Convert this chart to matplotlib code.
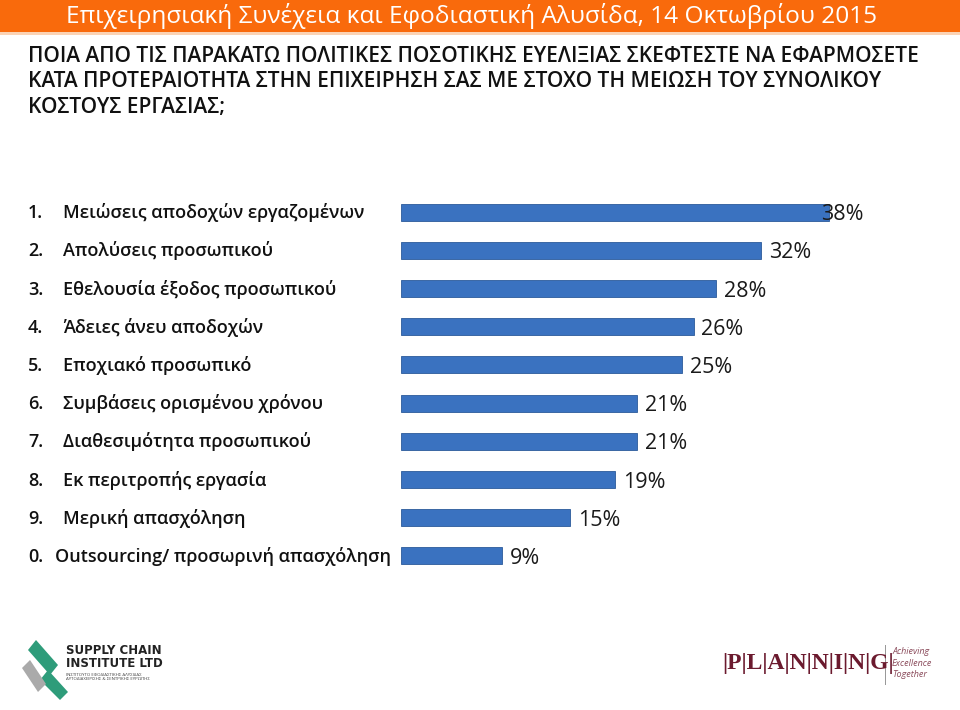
import matplotlib.pyplot as plt
import matplotlib.transforms as mtransforms
from matplotlib.patches import Rectangle, Polygon

plt.rcParams['font.family'] = ['Open Sans', 'DejaVu Sans']

numbers = ['1.', '2.', '3.', '4.', '5.', '6.', '7.', '8.', '9.', '0.']
labels = ['Μειώσεις αποδοχών εργαζομένων',
          'Απολύσεις προσωπικού',
          'Εθελουσία έξοδος προσωπικού',
          'Άδειες άνευ αποδοχών',
          'Εποχιακό προσωπικό',
          'Συμβάσεις ορισμένου χρόνου',
          'Διαθεσιμότητα προσωπικού',
          'Εκ περιτροπής εργασία',
          'Μερική απασχόληση',
          'Outsourcing/ προσωρινή απασχόληση']
values = [38, 32, 28, 26, 25, 21, 21, 19, 15, 9]

header = 'Επιχειρησιακή Συνέχεια και Εφοδιαστική Αλυσίδα, 14 Οκτωβρίου 2015'
question = ('ΠΟΙΑ ΑΠΟ ΤΙΣ ΠΑΡΑΚΑΤΩ ΠΟΛΙΤΙΚΕΣ ΠΟΣΟΤΙΚΗΣ ΕΥΕΛΙΞΙΑΣ ΣΚΕΦΤΕΣΤΕ ΝΑ ΕΦΑΡΜΟΣΕΤΕ\n'
            'ΚΑΤΑ ΠΡΟΤΕΡΑΙΟΤΗΤΑ ΣΤΗΝ ΕΠΙΧΕΙΡΗΣΗ ΣΑΣ ΜΕ ΣΤΟΧΟ ΤΗ ΜΕΙΩΣΗ ΤΟΥ ΣΥΝΟΛΙΚΟΥ\n'
            'ΚΟΣΤΟΥΣ ΕΡΓΑΣΙΑΣ;')

W, H = 960, 710
fig = plt.figure(figsize=(W / 100, H / 100), dpi=100)
fig.patch.set_facecolor('white')

# orange header band
fig.patches.append(Rectangle((0, 1 - 32 / H), 1, 32 / H, transform=fig.transFigure,
                             facecolor='#F96A0C', edgecolor='none'))
fig.patches.append(Rectangle((0, 1 - 35 / H), 1, 3 / H, transform=fig.transFigure,
                             facecolor='#FBD3B5', edgecolor='none'))
fig.text(66 / W, 1 - 16 / H, header, color='white', fontsize=17.6,
         va='center', ha='left')

fig.text(28 / W, 1 - 46 / H, question, color='#111111', fontsize=15,
         fontweight='semibold', va='top', ha='left', linespacing=1.28)

# bars
ax = fig.add_axes([401 / W, 1 - 575 / H, (W - 401) / W, 382 / H])
ax.set_xlim(0, (W - 401) / 11.25)
ax.set_ylim(len(values) - 0.5, -0.5)
ax.axis('off')
pos = list(range(len(values)))
ax.barh(pos, values, height=0.45, color='#3A72C0', edgecolor='#2B5A9A', linewidth=0.6)

for i, v in enumerate(values):
    dx = -7 if i == 0 else 8
    ax.annotate(f'{v}%', (v, i), xytext=(dx, -8), textcoords='offset pixels',
                ha='left', va='baseline', fontsize=15.5, color='#1a1a1a')

tr = mtransforms.blended_transform_factory(fig.transFigure, ax.transData)
for i, (num, lab) in enumerate(zip(numbers, labels)):
    x_lab = 55 / W if i == len(labels) - 1 else 63 / W
    ax.annotate(num, (28 / W, i), xycoords=tr, xytext=(0, -6), textcoords='offset pixels',
                ha='left', va='baseline', fontsize=13, fontweight='semibold', color='#111111')
    ax.annotate(lab, (x_lab, i), xycoords=tr, xytext=(0, -6), textcoords='offset pixels',
                ha='left', va='baseline', fontsize=13, fontweight='semibold', color='#111111')

# footer logos (approximated with text/shapes)
fig.patches.append(Polygon([(28 / W, 1 - 650 / H), (36 / W, 1 - 640 / H), (58 / W, 1 - 665 / H),
                            (50 / W, 1 - 675 / H)], closed=True, transform=fig.transFigure,
                           facecolor='#2E9C7A', edgecolor='none'))
fig.patches.append(Polygon([(40 / W, 1 - 680 / H), (48 / W, 1 - 670 / H), (68 / W, 1 - 692 / H),
                            (60 / W, 1 - 700 / H)], closed=True, transform=fig.transFigure,
                           facecolor='#2E9C7A', edgecolor='none'))
fig.patches.append(Polygon([(22 / W, 1 - 668 / H), (30 / W, 1 - 660 / H), (46 / W, 1 - 684 / H),
                            (38 / W, 1 - 692 / H)], closed=True, transform=fig.transFigure,
                           facecolor='#AAAAAA', edgecolor='none'))
fig.text(66 / W, 1 - 657 / H, 'SUPPLY CHAIN\nINSTITUTE LTD', fontsize=8.5, fontweight='bold',
         color='#222222', va='center', ha='left', linespacing=1.0,
         family=['DejaVu Sans'])
fig.text(66 / W, 1 - 677 / H, 'ΙΝΣΤΙΤΟΥΤΟ ΕΦΟΔΙΑΣΤΙΚΗΣ ΑΛΥΣΙΔΑΣ\nΑΥΤΟΔΙΑΧΕΙΡΙΣΗΣ & ΣΕΝΤΡΙΚΗΣ ΕΥΡΩΠΗΣ',
         fontsize=3.2, color='#444444', va='center', ha='left', linespacing=1.2)

fig.text(722 / W, 1 - 663 / H, '|P|L|A|N|N|I|N|G|', fontsize=17, fontweight='bold',
         color='#6B1A2E', family=['Liberation Serif'], va='center', ha='left')
fig.patches.append(Rectangle((885 / W, 1 - 685 / H), 1 / W, 40 / H, transform=fig.transFigure,
                             facecolor='#999999', edgecolor='none'))
fig.text(892 / W, 1 - 663 / H, 'Achieving\nExcellence\nTogether', fontsize=6.5,
         style='italic', color='#8A4A5A', va='center', ha='left', linespacing=1.3)

fig.savefig('out.png', dpi=100, facecolor='white')
